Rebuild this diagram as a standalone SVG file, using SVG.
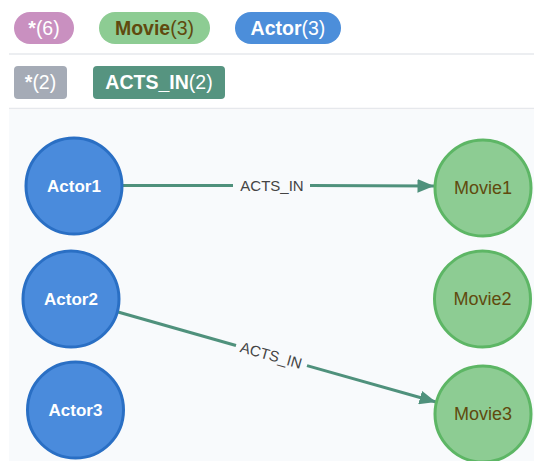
<svg xmlns="http://www.w3.org/2000/svg" width="534" height="461" viewBox="0 0 534 461">
  <style>
    .pill-text { font-family: "Liberation Sans", Arial, sans-serif; font-size: 19.5px; font-weight: bold; text-anchor: middle; }
    .cnt { font-weight: normal; }
    .sep { stroke: #e6e8ec; stroke-width: 1.5; }
    .actor circle { fill: #4a8bdc; stroke: #2a6fc4; stroke-width: 3; }
    .actor text { fill: #ffffff; font-family: "Liberation Sans", Arial, sans-serif; font-size: 17px; font-weight: bold; text-anchor: middle; }
    .movie circle { fill: #8dcc93; stroke: #5db665; stroke-width: 3; }
    .movie text { fill: #604a0e; font-family: "Liberation Sans", Arial, sans-serif; font-size: 18px; text-anchor: middle; }
    .edge { stroke: #4f917c; stroke-width: 3; fill: none; }
    .edge-label { fill: #444; font-family: "Liberation Sans", Arial, sans-serif; font-size: 15px; text-anchor: middle; }
  </style>
  <defs>
    <marker id="arrow" viewBox="0 0 10 10" refX="10" refY="5" markerWidth="5.5" markerHeight="4.6" markerUnits="strokeWidth" orient="auto" preserveAspectRatio="none">
      <path d="M0,0 L10,5 L0,10 Z" fill="#4f917c"/>
    </marker>
  </defs>

  <rect width="534" height="461" fill="#ffffff"/>

  <!-- label legend -->
  <g id="legend-labels">
    <rect x="14" y="12" width="60" height="32" rx="16" fill="#c990c0"/>
    <text class="pill-text" x="44" y="35" fill="#ffffff">*<tspan class="cnt">(6)</tspan></text>
    <rect x="99" y="12" width="111" height="32" rx="16" fill="#8dcc93"/>
    <text class="pill-text" x="154.5" y="35" fill="#604a0e">Movie<tspan class="cnt">(3)</tspan></text>
    <rect x="235" y="12" width="106" height="32" rx="16" fill="#4c8eda"/>
    <text class="pill-text" x="288" y="35" fill="#ffffff">Actor<tspan class="cnt">(3)</tspan></text>
  </g>
  <line class="sep" x1="9" y1="54" x2="534" y2="54"/>

  <!-- relationship legend -->
  <g id="legend-rels">
    <rect x="14" y="66" width="53" height="33" rx="4" fill="#a5abb6"/>
    <text class="pill-text" x="40.5" y="89" fill="#ffffff">*<tspan class="cnt">(2)</tspan></text>
    <rect x="93" y="66" width="132" height="33" rx="4" fill="#569480"/>
    <text class="pill-text" x="159" y="89" fill="#ffffff">ACTS_IN<tspan class="cnt">(2)</tspan></text>
  </g>
  <line class="sep" x1="9" y1="108.5" x2="534" y2="108.5"/>

  <!-- graph canvas -->
  <rect x="9" y="110" width="525" height="351" fill="#f8fafc"/>

  <g id="connectors">
    <g id="edge-actor1-movie1">
      <line class="edge" x1="123" y1="185.5" x2="233" y2="185.5"/>
      <line class="edge" x1="310" y1="185.5" x2="434" y2="186" marker-end="url(#arrow)"/>
      <text class="edge-label" x="272" y="191">ACTS_IN</text>
    </g>
    <g id="edge-actor2-movie3">
      <line class="edge" x1="118" y1="312" x2="236" y2="345.5"/>
      <line class="edge" x1="307" y1="365.6" x2="436" y2="402" marker-end="url(#arrow)"/>
      <text class="edge-label" transform="translate(271,355.5) rotate(15.7)" x="0" y="5">ACTS_IN</text>
    </g>
  </g>

  <g id="actor1" class="actor">
    <circle cx="74" cy="186" r="48"/>
    <text x="74" y="192">Actor1</text>
  </g>
  <g id="actor2" class="actor">
    <circle cx="71" cy="299" r="48"/>
    <text x="71" y="305">Actor2</text>
  </g>
  <g id="actor3" class="actor">
    <circle cx="75.5" cy="410" r="48"/>
    <text x="75.5" y="416">Actor3</text>
  </g>
  <g id="movie1" class="movie">
    <circle cx="483" cy="188" r="48"/>
    <text x="483" y="194">Movie1</text>
  </g>
  <g id="movie2" class="movie">
    <circle cx="482.5" cy="299" r="48"/>
    <text x="482.5" y="305">Movie2</text>
  </g>
  <g id="movie3" class="movie">
    <circle cx="483" cy="414" r="48"/>
    <text x="483" y="420">Movie3</text>
  </g>
</svg>
